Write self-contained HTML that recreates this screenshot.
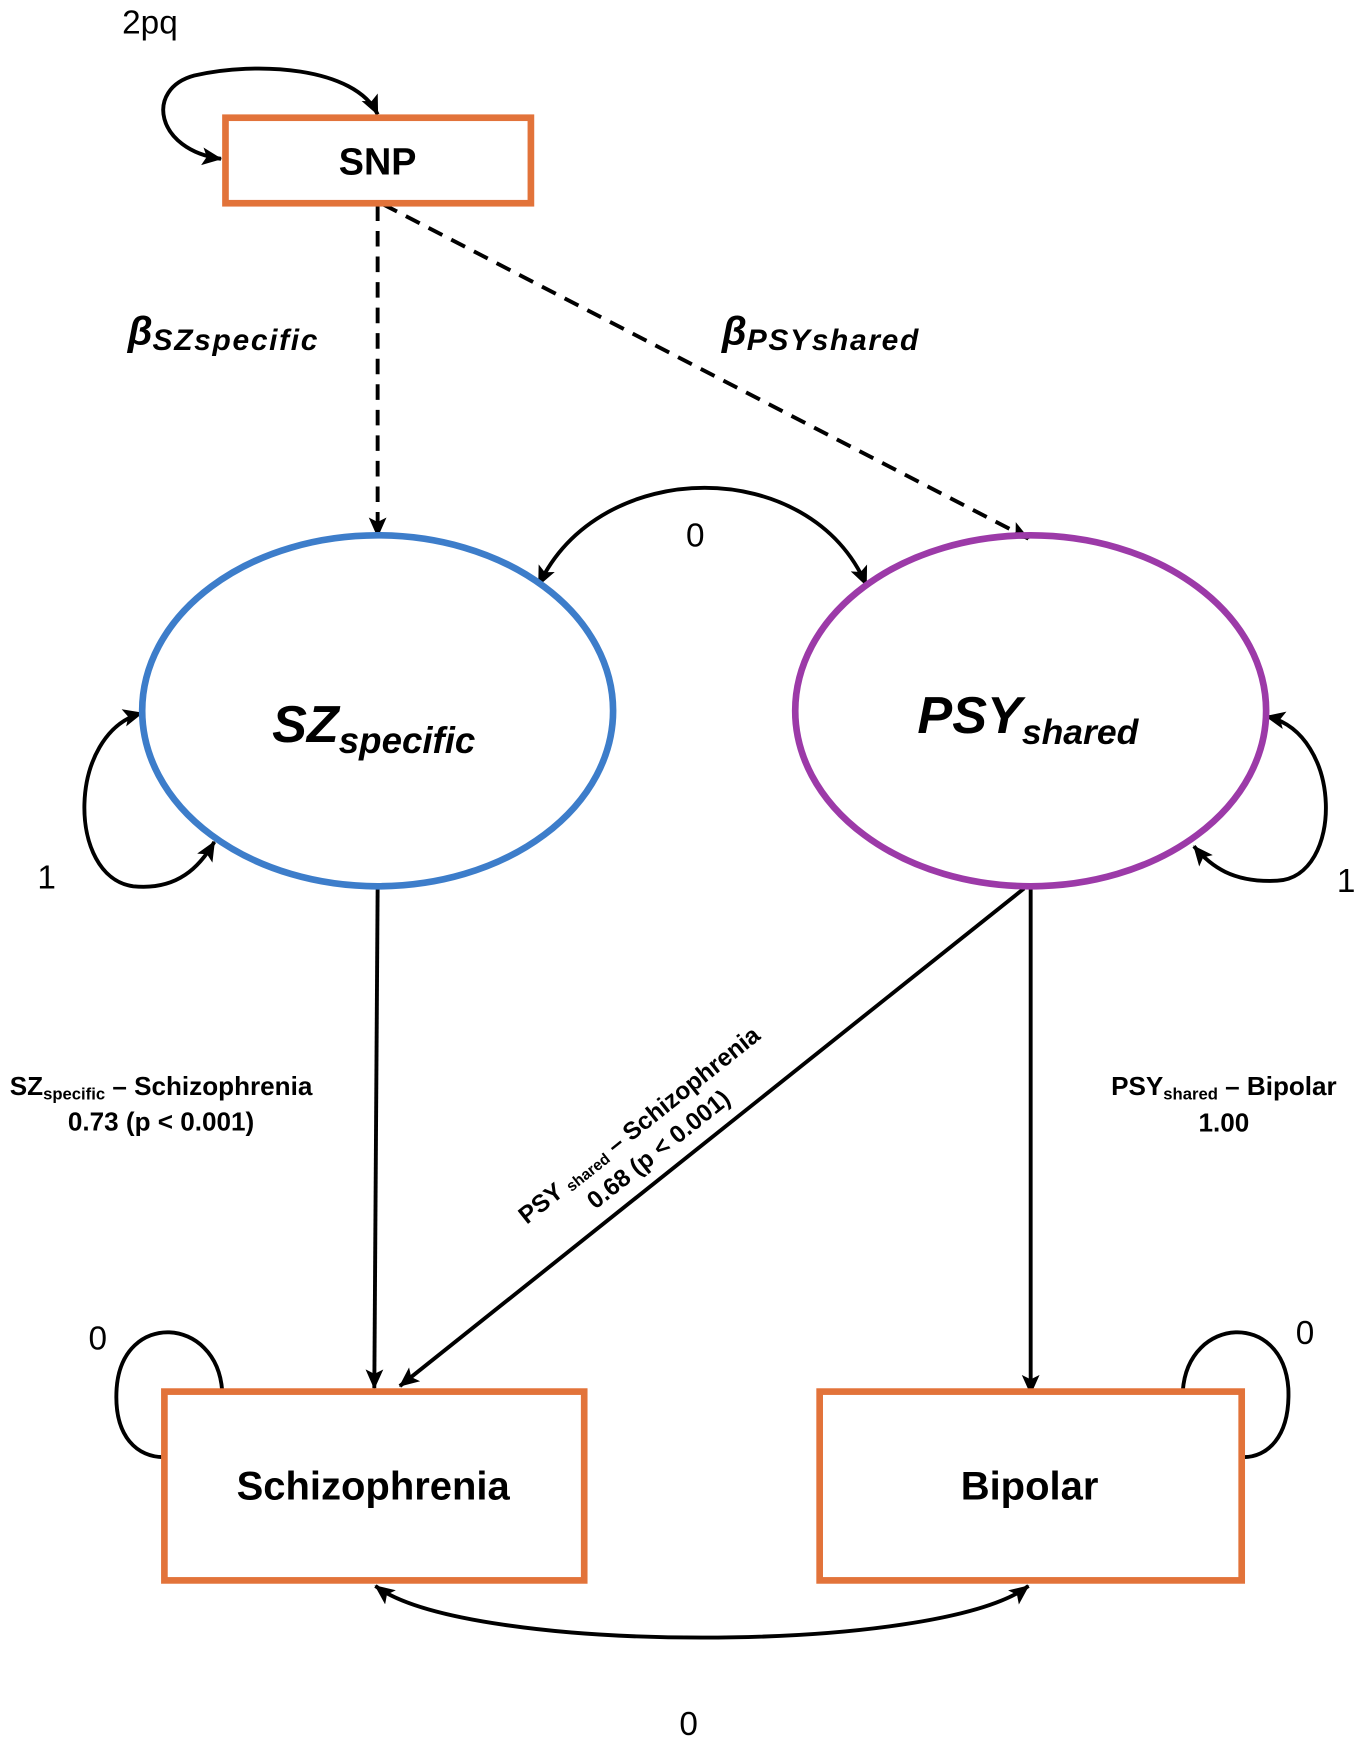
<!DOCTYPE html>
<html><head><meta charset="utf-8"><style>
html,body{margin:0;padding:0;background:#fff}
svg{display:block}
text{font-family:"Liberation Sans",sans-serif;fill:#000}
</style></head><body>
<svg width="1355" height="1742" viewBox="0 0 1220 1568.5" xmlns="http://www.w3.org/2000/svg">
<defs>
<marker id="as" markerWidth="20" markerHeight="20" refX="17" refY="10" orient="auto-start-reverse" markerUnits="userSpaceOnUse" viewBox="0 0 20 20">
<path d="M0,2 L18,10 L0,18 L4,10 Z" fill="#000"/></marker>
</defs>
<g fill="none" stroke="#000" stroke-width="3.5">
<path d="M199,143 C140,135 130,80 175,68 C230,55 320,60 340,103" marker-start="url(#as)" marker-end="url(#as)"/>
<path d="M340,185 L340,483" stroke-dasharray="14,9" marker-end="url(#as)"/>
<path d="M345,184 L926,485" stroke-dasharray="14,9" marker-end="url(#as)"/>
<path d="M485,527 C540,410 730,410 780,527" marker-start="url(#as)" marker-end="url(#as)"/>
<path d="M128,642 C60,660 60,790 120,798 C160,802 180,780 193,758" marker-start="url(#as)" marker-end="url(#as)"/>
<path d="M1140,645 C1210,660 1210,790 1150,793 C1110,795 1090,780 1075,762" marker-start="url(#as)" marker-end="url(#as)"/>
<path d="M340,800 L337,1250" marker-end="url(#as)"/>
<path d="M922,800 L360,1248" marker-end="url(#as)"/>
<path d="M928,800 L928,1255" marker-end="url(#as)"/>
<path d="M200,1252 C195,1185 110,1180 105,1250 C102,1295 125,1312 147,1312"/>
<path d="M1065,1252 C1070,1185 1155,1180 1160,1250 C1162,1295 1140,1312 1120,1312"/>
<path d="M338,1428 C420,1490 845,1490 926,1428" marker-start="url(#as)" marker-end="url(#as)"/>
</g>
<rect x="203" y="106" width="275" height="77" fill="#fff" stroke="#e2733a" stroke-width="6"/>
<rect x="148" y="1253" width="378" height="170" fill="#fff" stroke="#e2733a" stroke-width="6"/>
<rect x="738" y="1253" width="380" height="170" fill="#fff" stroke="#e2733a" stroke-width="6"/>
<ellipse cx="340" cy="640" rx="212" ry="158" fill="none" stroke="#3d7dca" stroke-width="6"/>
<ellipse cx="928" cy="640" rx="212" ry="158" fill="none" stroke="#9c3aa8" stroke-width="6"/>
<text x="340" y="157" font-size="34" font-weight="bold" text-anchor="middle">SNP</text>
<text x="135" y="30" font-size="30" text-anchor="middle">2pq</text>
<text x="115" y="310" font-size="36" font-weight="bold" font-style="italic" font-family="Liberation Serif">β<tspan font-size="27" dy="5" letter-spacing="1.5">SZspecific</tspan></text>
<text x="650" y="310" font-size="36" font-weight="bold" font-style="italic" font-family="Liberation Serif">β<tspan font-size="27" dy="5" letter-spacing="1.5">PSYshared</tspan></text>
<text x="626" y="492" font-size="30" text-anchor="middle">0</text>
<text x="245" y="668" font-size="47" font-weight="bold" font-style="italic">SZ<tspan font-size="33" dy="10">specific</tspan></text>
<text x="826" y="660" font-size="47" font-weight="bold" font-style="italic">PSY<tspan font-size="32" dy="10">shared</tspan></text>
<text x="42" y="800" font-size="30" text-anchor="middle">1</text>
<text x="1212" y="803" font-size="30" text-anchor="middle">1</text>
<text x="145" y="986" font-size="23.5" font-weight="bold" text-anchor="middle">SZ<tspan font-size="15" dy="4">specific</tspan><tspan dy="-4"> – Schizophrenia</tspan></text>
<text x="145" y="1018" font-size="23.5" font-weight="bold" text-anchor="middle">0.73 (p &lt; 0.001)</text>
<text x="1102" y="986" font-size="23.5" font-weight="bold" text-anchor="middle">PSY<tspan font-size="15" dy="4">shared</tspan><tspan dy="-4"> – Bipolar</tspan></text>
<text x="1102" y="1019" font-size="23.5" font-weight="bold" text-anchor="middle">1.00</text>
<g transform="translate(585,1025) rotate(-38.5)">
<text x="0" y="-8" font-size="22" font-weight="bold" text-anchor="middle">PSY <tspan font-size="14" dy="2">shared</tspan><tspan dy="-2"> – Schizophrenia</tspan></text>
<text x="0" y="20" font-size="22" font-weight="bold" text-anchor="middle">0.68 (p &lt; 0.001)</text>
</g>
<text x="336" y="1350" font-size="36" font-weight="bold" text-anchor="middle">Schizophrenia</text>
<text x="927" y="1350" font-size="36" font-weight="bold" text-anchor="middle">Bipolar</text>
<text x="88" y="1215" font-size="30" text-anchor="middle">0</text>
<text x="1175" y="1210" font-size="30" text-anchor="middle">0</text>
<text x="620" y="1562" font-size="30" text-anchor="middle">0</text>
</svg>
</body></html>
